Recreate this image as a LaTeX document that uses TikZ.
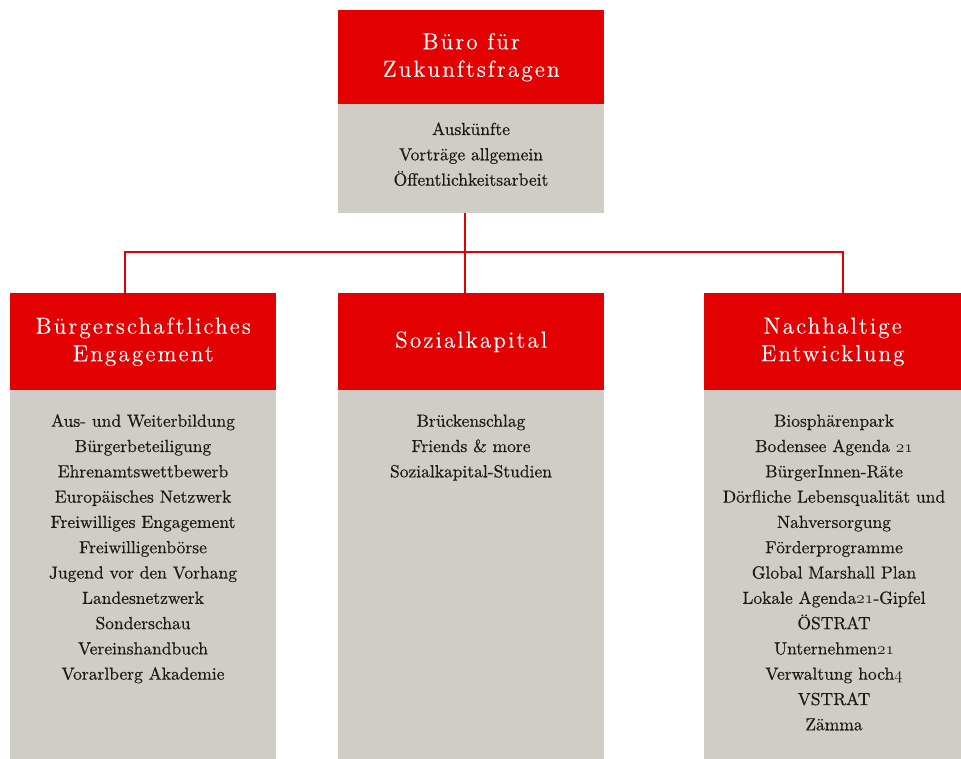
\documentclass[tikz,border=0pt]{standalone}
\usepackage{fontspec}
\setmainfont{lmroman10-regular.otf}[FakeBold=0.5]
\newfontfamily\headfont{lmroman12-regular.otf}[LetterSpace=9, FakeBold=0.3]
\newcommand\osn[1]{{\fontencoding{OML}\fontfamily{lmm}\fontseries{m}\fontshape{it}\selectfont #1}}
\definecolor{hred}{HTML}{E30000}
\definecolor{bgray}{HTML}{D0CDC6}
\definecolor{ink}{HTML}{1A1A1A}
\tikzset{
  headbox/.style={fill=hred, text=white, inner sep=0pt, anchor=north west, align=center,
    font=\headfont\fontsize{23.2}{27.5}\selectfont},
  bodybox/.style={fill=bgray, inner sep=0pt, anchor=north west},
  items/.style={anchor=base, text width=262pt, align=center, inner sep=0pt, text=ink,
    font=\fontsize{17.5}{25.3}\selectfont},
  conn/.style={draw=hred, line width=2pt},
}
\begin{document}
\begin{tikzpicture}[x=1pt,y=-1pt]
\useasboundingbox (0,0) rectangle (961,759);
% top box
\node[headbox, minimum width=266pt, minimum height=94pt] (topH) at (338,10) {Büro für\\Zukunftsfragen};
\node[bodybox, minimum width=266pt, minimum height=109pt] (topB) at (338,104) {};
\node[items] (topT) at (471,135) {Auskünfte\\Vorträge allgemein\\Öffentlichkeitsarbeit};
% left
\node[headbox, minimum width=266pt, minimum height=97pt] (leftH) at (10,293) {Bürgerschaftliches\\Engagement};
\node[bodybox, minimum width=266pt, minimum height=369pt] (leftB) at (10,390) {};
\node[items] (leftT) at (143,426.7) {Aus- und Weiterbildung\\Bürgerbeteiligung\\Ehrenamtswettbewerb\\Europäisches Netzwerk\\Freiwilliges Engagement\\Freiwilligenbörse\\Jugend vor den Vorhang\\Landesnetzwerk\\Sonderschau\\Vereinshandbuch\\Vorarlberg Akademie};
% middle
\node[headbox, minimum width=266pt, minimum height=97pt] (midH) at (338,293) {Sozialkapital};
\node[bodybox, minimum width=266pt, minimum height=369pt] (midB) at (338,390) {};
\node[items] (midT) at (471,426.7) {Brückenschlag\\Friends \& more\\Sozialkapital-Studien};
% right
\node[headbox, minimum width=257pt, minimum height=97pt] (rightH) at (704,293) {Nachhaltige\\Entwicklung};
\node[bodybox, minimum width=257pt, minimum height=369pt] (rightB) at (704,390) {};
\node[items] (rightT) at (834,426.7) {Biosphärenpark\\Bodensee Agenda \osn{21}\\BürgerInnen-Räte\\Dörfliche Lebensqualität und\\Nahversorgung\\Förderprogramme\\Global Marshall Plan\\Lokale Agenda\osn{21}-Gipfel\\ÖSTRAT\\Unternehmen\osn{21}\\Verwaltung hoch\osn{4}\\VSTRAT\\Zämma};
% connectors
\coordinate (bus) at (465,252.5);
\coordinate (lx) at (125,252.5);
\coordinate (rx) at (843,252.5);
\draw[conn] (bus |- topB.south) -- (bus |- midH.north);
\draw[conn] (lx |- leftH.north) -- (lx) -- (rx) -- (rx |- rightH.north);
\end{tikzpicture}
\end{document}
